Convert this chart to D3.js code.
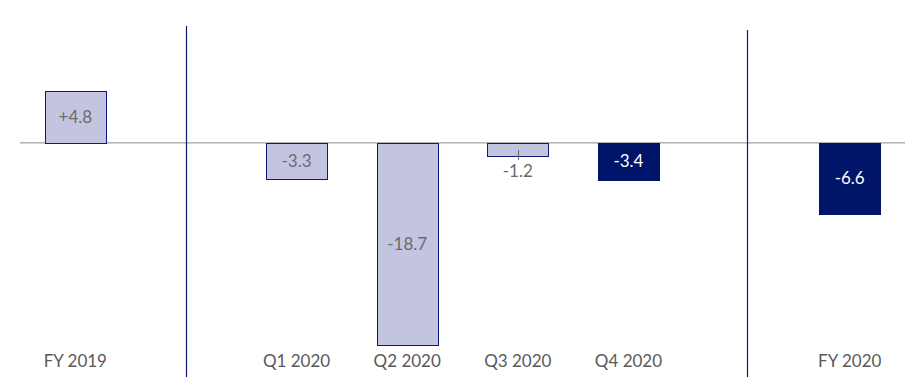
<!DOCTYPE html>
<html>
<head>
<meta charset="utf-8">
<script src="https://cdn.jsdelivr.net/npm/d3@7"></script>
<style>
  body { margin: 0; background: #fff; }
  svg { display: block; font-family: Lato, "Open Sans", sans-serif; }
</style>
</head>
<body>
<div id="chart"></div>
<script>
// slots, including the two empty gaps where the divider lines sit
const slots = ['FY 2019', 'gap1', 'Q1 2020', 'Q2 2020', 'Q3 2020', 'Q4 2020', 'gap2', 'FY 2020'];
const categories = ['FY 2019', 'Q1 2020', 'Q2 2020', 'Q3 2020', 'Q4 2020', 'FY 2020'];
const values = [4.8, -3.3, -18.7, -1.2, -3.4, -6.6];
const labels = ['+4.8', '-3.3', '-18.7', '-1.2', '-3.4', '-6.6'];
const dark = [false, false, false, false, true, true];
// divider positions in slot units
const dividers = [1, 6.07];

const width = 914;
const height = 389;

const data = categories.map((c, i) => ({ name: c, value: values[i], label: labels[i], dark: dark[i] }));

const svg = d3.select('#chart')
  .append('svg')
  .attr('width', width)
  .attr('height', height);

const x = d3.scaleBand()
  .domain(slots)
  .range([20, 905])
  .paddingInner(0.45)
  .paddingOuter(0.225);

const y = d3.scaleLinear()
  .domain([-18.7, 4.8])
  .range([345, 91]);

const slotX = i => x.range()[0] + x.step() * (i + 0.5);

// baseline
svg.append('line')
  .attr('x1', x.range()[0])
  .attr('x2', x.range()[1])
  .attr('y1', y(0))
  .attr('y2', y(0))
  .attr('stroke', '#8a8a8a')
  .attr('stroke-width', 1);

// dividers
svg.append('g')
  .selectAll('line')
  .data(dividers)
  .join('line')
    .attr('x1', d => Math.round(slotX(d)) + 0.5)
    .attr('x2', d => Math.round(slotX(d)) + 0.5)
    .attr('y1', (d, i) => i === 0 ? 26 : 30)
    .attr('y2', 377)
    .attr('stroke', '#0d1a6e')
    .attr('stroke-width', 1.2);

// bars
svg.append('g')
  .selectAll('rect')
  .data(data)
  .join('rect')
    .attr('x', d => Math.round(x(d.name)) + 0.5)
    .attr('y', d => Math.round(y(Math.max(0, d.value))) + 0.5)
    .attr('width', Math.round(x.bandwidth()))
    .attr('height', d => Math.round(Math.abs(y(d.value) - y(0))))
    .attr('fill', d => d.dark ? '#001469' : '#c3c5e0')
    .attr('stroke', d => d.dark ? '#001469' : '#0d1a78')
    .attr('stroke-width', 1);

// value labels
const small = d => Math.abs(y(d.value) - y(0)) < 20;
svg.append('g')
  .selectAll('text')
  .data(data)
  .join('text')
    .attr('x', d => x(d.name) + x.bandwidth() / 2)
    .attr('y', d => small(d) ? y(d.value) + 15 : (y(d.value) + y(0)) / 2)
    .attr('dy', '0.35em')
    .attr('text-anchor', 'middle')
    .attr('font-size', 17)
    .attr('fill', d => d.dark ? '#ffffff' : '#6b6b6b')
    .text(d => d.label);

// leader line for labels placed outside a small bar
svg.append('g')
  .selectAll('line')
  .data(data.filter(small))
  .join('line')
    .attr('x1', d => Math.round(x(d.name) + x.bandwidth() / 2) + 0.5)
    .attr('x2', d => Math.round(x(d.name) + x.bandwidth() / 2) + 0.5)
    .attr('y1', d => y(d.value) - 6)
    .attr('y2', d => y(d.value) + 4)
    .attr('stroke', '#6b6b6b')
    .attr('stroke-width', 1);

// category axis
const xAxis = g => g
  .attr('transform', 'translate(0,361)')
  .call(d3.axisBottom(x).tickValues(categories).tickSize(0).tickPadding(0))
  .call(g => g.select('.domain').remove())
  .call(g => g.selectAll('text')
    .attr('dy', '0.35em')
    .attr('font-size', 17)
    .attr('font-family', 'Lato, "Open Sans", sans-serif')
    .attr('fill', '#595959'));

svg.append('g').call(xAxis);
</script>
</body>
</html>
